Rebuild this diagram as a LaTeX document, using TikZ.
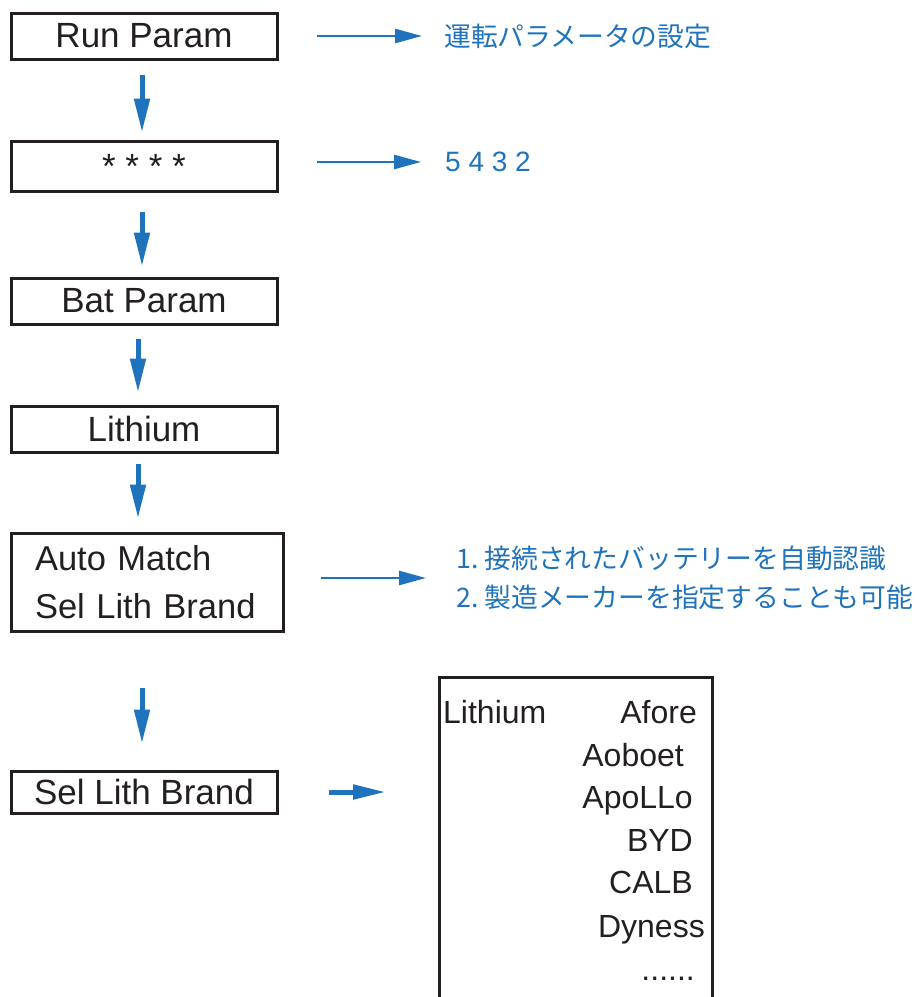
\documentclass[tikz,border=0pt]{standalone}
\usepackage{fontspec}
\setmainfont{Liberation Sans}
\newfontfamily\jpfont{Noto Sans CJK JP}
\usetikzlibrary{arrows.meta}
\definecolor{ink}{HTML}{231F20}
\definecolor{flowblue}{HTML}{1F73BC}
\tikzset{
  panel/.style={
    draw=ink, line width=3pt, text=ink, inner sep=0pt,
    minimum width=266pt, minimum height=46pt,
    font=\fontsize{35}{40}\selectfont
  },
  downflow/.style={-{Triangle[length=34pt,width=15pt]}, line width=5pt, draw=flowblue},
  rightflow/.style={-{Triangle[length=27pt,width=14pt]}, line width=2.6pt, draw=flowblue},
  boldflow/.style={-{Triangle[length=33pt,width=14pt]}, line width=5pt, draw=flowblue},
  note/.style={
    text=flowblue, anchor=west, inner sep=0pt, align=left,
    font=\jpfont\fontsize{26.8}{39}\selectfont
  },
  brand/.style={text=ink, anchor=base east, inner sep=0pt, font=\fontsize{32}{38}\selectfont}
}

\begin{document}
\begin{tikzpicture}[x=1pt,y=-1pt]
  \useasboundingbox (0,0) rectangle (914,997);

  % menu steps
  \node[panel] (run) at (144,36) {Run Param};
  \node[panel, minimum height=50pt] (pwd) at (144,166) {* * * *};
  \node[panel] (bat) at (144,301) {Bat Param};
  \node[panel] (lith) at (144,429) {Lithium};
  \node[panel, minimum width=272pt, minimum height=98pt, text width=224pt,
        align=left, font=\fontsize{34.5}{48}\selectfont] (auto) at (147,582)
        {Auto Match\\Sel Lith Brand};
  \node[panel, minimum height=42pt] (sel) at (144,792) {Sel Lith Brand};

  % notes on the right
  \node[note] (runnote) at (444,36) {運転パラメータの設定};
  \node[note, font=\fontsize{28}{34}\selectfont] (pwdnote) at (445,162) {5 4 3 2};
  \node[note] (autonote) at (456,578)
        {1.~接続されたバッテリーを自動認識\\2.~製造メーカーを指定することも可能};

  % brand list (open at the bottom)
  \node[draw=ink, line width=3pt, minimum width=273pt, minimum height=360pt,
        inner sep=0pt, anchor=north west] (list) at (438,676) {};
  \node[brand, anchor=base west] (lithtag) at (443,723) {Lithium};
  \node[brand] (afore)  at (697,723) {Afore};
  \node[brand] (aoboet) at (684,766) {Aoboet};
  \node[brand] (apollo) at (693,808) {ApoLLo};
  \node[brand] (byd)    at (693,851) {BYD};
  \node[brand] (calb)   at (693,893) {CALB};
  \node[brand] (dyness) at (705,937) {Dyness};
  \node[brand] (more)   at (695,980) {......};

  % downward flow
  \draw[downflow, shorten <=14pt, shorten >=7pt]  ([xshift=-2pt]run.south)  -- ([xshift=-2pt]pwd.north);
  \draw[downflow, shorten <=19pt, shorten >=10pt] ([xshift=-2pt]pwd.south)  -- ([xshift=-2pt]bat.north);
  \draw[downflow, shorten <=13pt, shorten >=12pt] ([xshift=-6pt]bat.south)  -- ([xshift=-6pt]lith.north);
  \draw[downflow, shorten <=10pt, shorten >=13pt] ([xshift=-6pt]lith.south) -- ([xshift=-9pt]auto.north);
  \draw[downflow, shorten <=55pt, shorten >=26pt] ([xshift=-5pt]auto.south) -- ([xshift=-2pt]sel.north);

  % pointers to the notes
  \draw[rightflow, shorten <=38pt, shorten >=22pt] (run.east) -- (runnote.west);
  \draw[rightflow, shorten <=38pt, shorten >=24pt] (pwd.east |- pwdnote.west) -- (pwdnote.west);
  \draw[rightflow, shorten <=36pt, shorten >=30pt] (auto.east |- autonote.west) -- (autonote.west);
  \draw[boldflow, shorten <=50pt, shorten >=52pt] (sel.east) -- (list.west |- sel.east);
\end{tikzpicture}
\end{document}
